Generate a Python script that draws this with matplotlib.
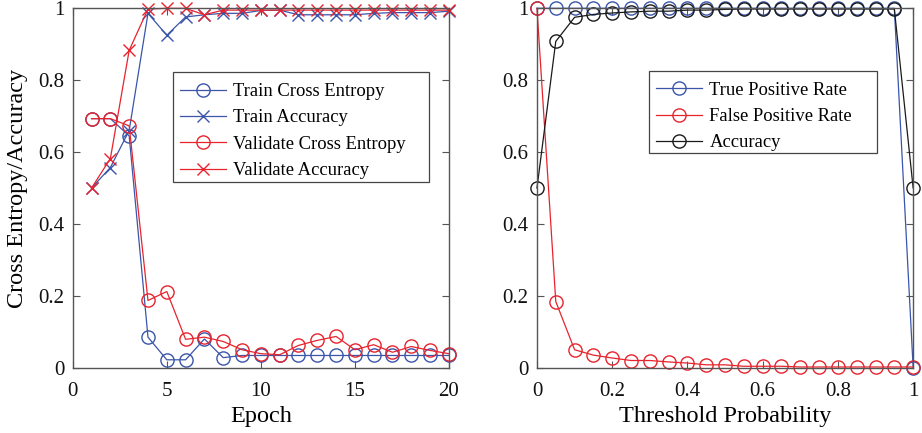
import matplotlib
matplotlib.use("Agg")
import matplotlib.pyplot as plt
from matplotlib.patches import Rectangle

plt.rcParams['font.family'] = ['Liberation Serif', 'DejaVu Serif']

# ---- Left panel data ----
epochs = list(range(1, 21))
train_ce = [0.693, 0.693, 0.645, 0.085, 0.022, 0.022, 0.080, 0.028, 0.034, 0.034,
            0.034, 0.034, 0.034, 0.034, 0.034, 0.034, 0.034, 0.034, 0.034, 0.034]
train_acc = [0.50, 0.557, 0.66, 0.986, 0.925, 0.976, 0.982, 0.986, 0.986, 0.994,
             0.995, 0.982, 0.982, 0.982, 0.982, 0.986, 0.988, 0.988, 0.988, 0.992]
val_ce = [0.693, 0.693, 0.673, 0.187, 0.212, 0.079, 0.085, 0.073, 0.050, 0.039,
          0.036, 0.062, 0.076, 0.087, 0.050, 0.064, 0.043, 0.059, 0.048, 0.039]
val_acc = [0.50, 0.582, 0.883, 0.998, 1.0, 1.0, 0.982, 0.995, 0.995, 0.995,
           0.995, 0.995, 0.995, 0.995, 0.995, 0.995, 0.995, 0.995, 0.995, 0.995]

# ---- Right panel data ----
thresholds = [0.0, 0.05, 0.10, 0.15, 0.20, 0.25, 0.30, 0.35, 0.40, 0.45, 0.50,
              0.55, 0.60, 0.65, 0.70, 0.75, 0.80, 0.85, 0.90, 0.95, 1.0]
tpr = [1.0, 1.0, 1.0, 1.0, 1.0, 1.0, 1.0, 1.0, 1.0, 1.0, 1.0,
       1.0, 1.0, 1.0, 1.0, 1.0, 1.0, 1.0, 1.0, 1.0, 0.0]
fpr = [1.0, 0.184, 0.050, 0.035, 0.027, 0.020, 0.020, 0.016, 0.013, 0.008, 0.008,
       0.004, 0.004, 0.004, 0.002, 0.002, 0.002, 0.002, 0.002, 0.002, 0.002]
acc = [0.50, 0.908, 0.975, 0.983, 0.987, 0.990, 0.992, 0.992, 0.995, 0.995, 0.997,
       0.998, 0.998, 0.998, 0.998, 0.998, 0.998, 0.998, 0.998, 0.998, 0.50]

BLUE = '#3a55aa'
RED = '#e8232d'
BLACK = '#1a1a1a'
FRAME = '#555555'

fig = plt.figure(figsize=(9.22, 4.33), dpi=100)
ax1 = fig.add_axes([0.0789, 0.1508, 0.408, 0.830])
ax2 = fig.add_axes([0.5824, 0.1508, 0.408, 0.830])

ms = 9.5
lw = 0.9
ax1.plot(epochs, train_ce, color=BLUE, marker='o', mfc='none', ms=ms, lw=lw, mew=1.0,
         label='Train Cross Entropy')
ax1.plot(epochs, train_acc, color=BLUE, marker='x', ms=8, lw=lw, mew=1.0,
         label='Train Accuracy')
ax1.plot(epochs, val_ce, color=RED, marker='o', mfc='none', ms=ms, lw=lw, mew=1.0,
         label='Validate Cross Entropy')
ax1.plot(epochs, val_acc, color=RED, marker='x', ms=8, lw=lw, mew=1.0,
         label='Validate Accuracy')
ax1.set_xlim(0, 20)
ax1.set_ylim(0, 1)
ax1.set_xticks([0, 5, 10, 15, 20])
ax1.set_xticklabels(['0', '5', '10', '15', '20'])
ax1.set_yticks([0, 0.2, 0.4, 0.6, 0.8, 1])
ax1.set_yticklabels(['0', '0.2', '0.4', '0.6', '0.8', '1'])
ax1.set_xlabel('Epoch', fontsize=17.5, labelpad=4)
ax1.set_ylabel('Cross Entropy/Accuracy', fontsize=17.5, labelpad=7.5)

ax2.plot(thresholds, tpr, color=BLUE, marker='o', mfc='none', ms=ms, lw=lw, mew=1.0,
         label='True Positive Rate')
ax2.plot(thresholds, fpr, color=RED, marker='o', mfc='none', ms=ms, lw=lw, mew=1.0,
         label='False Positive Rate')
ax2.plot(thresholds, acc, color=BLACK, marker='o', mfc='none', ms=ms, lw=lw, mew=1.0,
         label='Accuracy')
ax2.set_xlim(0, 1)
ax2.set_ylim(0, 1)
ax2.set_xticks([0, 0.2, 0.4, 0.6, 0.8, 1])
ax2.set_xticklabels(['0', '0.2', '0.4', '0.6', '0.8', '1'])
ax2.set_yticks([0, 0.2, 0.4, 0.6, 0.8, 1])
ax2.set_yticklabels(['0', '0.2', '0.4', '0.6', '0.8', '1'])
ax2.set_xlabel('Threshold Probability', fontsize=17.5, labelpad=4)

for ax in (ax1, ax2):
    for sp in ax.spines.values():
        sp.set_color(FRAME)
        sp.set_linewidth(1.0)
    ax.tick_params(direction='in', top=True, right=True, length=5, width=0.8,
                   color=FRAME, labelsize=15, pad=6, labelcolor='#111111')
    ax.tick_params(axis='x', pad=10)
    for m in ax.lines:
        m.set_clip_on(False)

leg_kw = dict(loc='upper left', frameon=False, fontsize=13.4, handlelength=2.45,
              handletextpad=0.4, borderpad=0.35, labelspacing=0.5, borderaxespad=0)
leg1 = ax1.legend(bbox_to_anchor=(0.268, 0.810), **leg_kw)
leg2 = ax2.legend(bbox_to_anchor=(0.30, 0.814), **leg_kw)

# MATLAB-style legend boxes (wider than the legend content)
ax1.add_patch(Rectangle((0.2665, 0.5167), 0.9469 - 0.2665, 0.8228 - 0.5167,
                        transform=ax1.transAxes, fill=True, facecolor='white',
                        edgecolor='#444444', lw=0.9, zorder=4.9))
ax2.add_patch(Rectangle((0.2976, 0.5974), 0.9035 - 0.2976, 0.8255 - 0.5974,
                        transform=ax2.transAxes, fill=True, facecolor='white',
                        edgecolor='#444444', lw=0.9, zorder=4.9))
leg1.set_zorder(5)
leg2.set_zorder(5)

fig.savefig('out.png', dpi=100)
